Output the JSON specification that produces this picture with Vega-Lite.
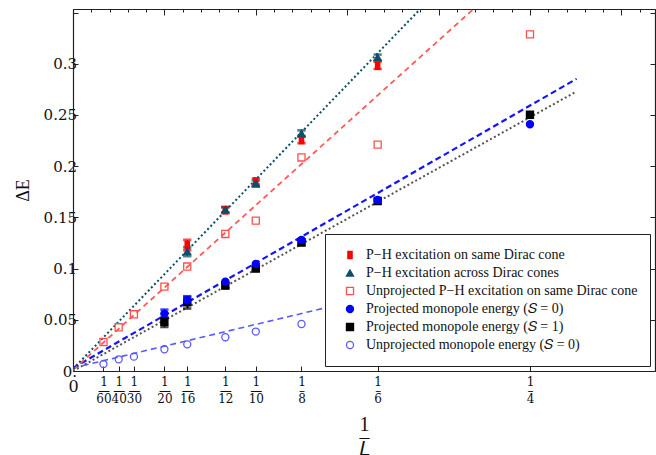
{
  "$schema": "https://vega.github.io/schema/vega-lite/v6.json",
  "width": 582,
  "height": 362,
  "autosize": {"type": "none"},
  "padding": {"left": 73, "top": 9, "right": 1, "bottom": 84},
  "background": "white",
  "config": {
    "view": {"stroke": "#222", "strokeWidth": 1},
    "axis": {"grid": false, "domainColor": "#222", "tickColor": "#222", "labelColor": "#111", "titleColor": "#111", "domainWidth": 1.2, "tickWidth": 1},
    "legend": {"orient": "none", "legendX": 252, "legendY": 225, "strokeColor": "#222", "fillColor": "white", "padding": 12, "symbolOffset": 6, "clipHeight": 18, "rowPadding": 0, "labelFont": "Liberation Serif", "labelFontSize": 14, "labelColor": "#111", "labelOffset": 9, "symbolSize": 50, "symbolStrokeWidth": 1.3, "labelLimit": 400, "cornerRadius": 0, "zindex": 1}
  },
  "datasets": {
    "pts": [
      {"series": "P−H excitation on same Dirac cone", "x": 0.0625, "y": 0.123, "lo": 0.118, "hi": 0.128},
      {"series": "P−H excitation on same Dirac cone", "x": 0.083333, "y": 0.157, "lo": 0.154, "hi": 0.160},
      {"series": "P−H excitation on same Dirac cone", "x": 0.1, "y": 0.185, "lo": 0.182, "hi": 0.188},
      {"series": "P−H excitation on same Dirac cone", "x": 0.125, "y": 0.2255, "lo": 0.2225, "hi": 0.229},
      {"series": "P−H excitation on same Dirac cone", "x": 0.166667, "y": 0.298, "lo": 0.295, "hi": 0.302},
      {"series": "P−H excitation across Dirac cones", "x": 0.0625, "y": 0.1166, "lo": 0.112, "hi": 0.121},
      {"series": "P−H excitation across Dirac cones", "x": 0.083333, "y": 0.1575, "lo": 0.155, "hi": 0.160},
      {"series": "P−H excitation across Dirac cones", "x": 0.1, "y": 0.183, "lo": 0.180, "hi": 0.186},
      {"series": "P−H excitation across Dirac cones", "x": 0.125, "y": 0.232, "lo": 0.229, "hi": 0.235},
      {"series": "P−H excitation across Dirac cones", "x": 0.166667, "y": 0.3063, "lo": 0.303, "hi": 0.309},
      {"series": "Unprojected P−H excitation on same Dirac cone", "x": 0.016667, "y": 0.0283},
      {"series": "Unprojected P−H excitation on same Dirac cone", "x": 0.025, "y": 0.0427},
      {"series": "Unprojected P−H excitation on same Dirac cone", "x": 0.033333, "y": 0.0554},
      {"series": "Unprojected P−H excitation on same Dirac cone", "x": 0.05, "y": 0.0824},
      {"series": "Unprojected P−H excitation on same Dirac cone", "x": 0.0625, "y": 0.102},
      {"series": "Unprojected P−H excitation on same Dirac cone", "x": 0.083333, "y": 0.1338},
      {"series": "Unprojected P−H excitation on same Dirac cone", "x": 0.1, "y": 0.1469},
      {"series": "Unprojected P−H excitation on same Dirac cone", "x": 0.125, "y": 0.2085},
      {"series": "Unprojected P−H excitation on same Dirac cone", "x": 0.166667, "y": 0.221},
      {"series": "Unprojected P−H excitation on same Dirac cone", "x": 0.25, "y": 0.3287},
      {"series": "Projected monopole energy (𝑆 = 1)", "x": 0.05, "y": 0.048, "lo": 0.043, "hi": 0.052},
      {"series": "Projected monopole energy (𝑆 = 1)", "x": 0.0625, "y": 0.067, "lo": 0.061, "hi": 0.073},
      {"series": "Projected monopole energy (𝑆 = 1)", "x": 0.083333, "y": 0.0834, "lo": 0.081, "hi": 0.086},
      {"series": "Projected monopole energy (𝑆 = 1)", "x": 0.1, "y": 0.1, "lo": 0.098, "hi": 0.102},
      {"series": "Projected monopole energy (𝑆 = 1)", "x": 0.125, "y": 0.1255, "lo": 0.123, "hi": 0.128},
      {"series": "Projected monopole energy (𝑆 = 1)", "x": 0.166667, "y": 0.166},
      {"series": "Projected monopole energy (𝑆 = 1)", "x": 0.25, "y": 0.2502},
      {"series": "Projected monopole energy (𝑆 = 0)", "x": 0.05, "y": 0.056, "lo": 0.052, "hi": 0.060},
      {"series": "Projected monopole energy (𝑆 = 0)", "x": 0.0625, "y": 0.069, "lo": 0.066, "hi": 0.072},
      {"series": "Projected monopole energy (𝑆 = 0)", "x": 0.083333, "y": 0.0873},
      {"series": "Projected monopole energy (𝑆 = 0)", "x": 0.1, "y": 0.1046},
      {"series": "Projected monopole energy (𝑆 = 0)", "x": 0.125, "y": 0.128},
      {"series": "Projected monopole energy (𝑆 = 0)", "x": 0.166667, "y": 0.167},
      {"series": "Projected monopole energy (𝑆 = 0)", "x": 0.25, "y": 0.241},
      {"series": "Unprojected monopole energy (𝑆 = 0)", "x": 0.016667, "y": 0.0068},
      {"series": "Unprojected monopole energy (𝑆 = 0)", "x": 0.025, "y": 0.0114},
      {"series": "Unprojected monopole energy (𝑆 = 0)", "x": 0.033333, "y": 0.014},
      {"series": "Unprojected monopole energy (𝑆 = 0)", "x": 0.05, "y": 0.0212},
      {"series": "Unprojected monopole energy (𝑆 = 0)", "x": 0.0625, "y": 0.026},
      {"series": "Unprojected monopole energy (𝑆 = 0)", "x": 0.083333, "y": 0.033},
      {"series": "Unprojected monopole energy (𝑆 = 0)", "x": 0.1, "y": 0.0385},
      {"series": "Unprojected monopole energy (𝑆 = 0)", "x": 0.125, "y": 0.0459}
    ],
    "fits": [
      {"fit": "B", "x": 0.0, "y": 0.002},
      {"fit": "B", "x": 0.2, "y": 0.372},
      {"fit": "C", "x": 0.0, "y": 0.001},
      {"fit": "C", "x": 0.23, "y": 0.371},
      {"fit": "D", "x": 0.0, "y": 0.003},
      {"fit": "D", "x": 0.2755, "y": 0.2853},
      {"fit": "E", "x": 0.0, "y": 0.0},
      {"fit": "E", "x": 0.2755, "y": 0.273},
      {"fit": "F", "x": 0.0, "y": 0.003},
      {"fit": "F", "x": 0.3, "y": 0.1305}
    ]
  },
  "layer": [
    {
      "data": {"name": "fits"},
      "transform": [{"filter": "datum.fit == 'F'"}],
      "mark": {"type": "line", "clip": true, "color": "#5a5aff", "strokeWidth": 1.6, "strokeDash": [6, 4]},
      "encoding": {
        "x": {"field": "x", "type": "quantitative", "scale": {"domain": [0, 0.3184], "nice": false, "zero": false},
          "axis": {"orient": "top", "values": [0.01,0.02,0.03,0.04,0.05,0.06,0.07,0.08,0.09,0.1,0.11,0.12,0.13,0.14,0.15,0.16,0.17,0.18,0.19,0.2,0.21,0.22,0.23,0.24,0.25,0.26,0.27,0.28,0.29,0.3,0.31],
            "labels": false, "title": null,
            "tickSize": {"condition": {"test": "abs(datum.value*20 - round(datum.value*20)) < 0.001", "value": -6}, "value": -3}}},
        "y": {"field": "y", "type": "quantitative", "scale": {"domain": [0, 0.3535], "nice": false, "zero": false},
          "axis": {"orient": "right", "values": [0.05,0.1,0.15,0.2,0.25,0.3,0.35], "labels": false, "title": null, "tickSize": -5}}
      }
    },
    {
      "data": {"name": "fits"},
      "transform": [{"filter": "datum.fit == 'E'"}],
      "mark": {"type": "line", "clip": true, "color": "#555555", "strokeWidth": 2, "strokeDash": [2, 2.5]},
      "encoding": {
        "x": {"field": "x", "type": "quantitative", "axis": null},
        "y": {"field": "y", "type": "quantitative", "axis": null}
      }
    },
    {
      "data": {"name": "fits"},
      "transform": [{"filter": "datum.fit == 'D'"}],
      "mark": {"type": "line", "clip": true, "color": "#1414ff", "strokeWidth": 2.2, "strokeDash": [6, 3.5]},
      "encoding": {
        "x": {"field": "x", "type": "quantitative", "axis": null},
        "y": {"field": "y", "type": "quantitative", "axis": null}
      }
    },
    {
      "data": {"name": "fits"},
      "transform": [{"filter": "datum.fit == 'C'"}],
      "mark": {"type": "line", "clip": true, "color": "#ff5a5a", "strokeWidth": 1.8, "strokeDash": [5.5, 4]},
      "encoding": {
        "x": {"field": "x", "type": "quantitative", "axis": null},
        "y": {"field": "y", "type": "quantitative", "axis": null}
      }
    },
    {
      "data": {"name": "fits"},
      "transform": [{"filter": "datum.fit == 'B'"}],
      "mark": {"type": "line", "clip": true, "color": "#0b4f6b", "strokeWidth": 2, "strokeDash": [2, 2.5]},
      "encoding": {
        "x": {"field": "x", "type": "quantitative", "axis": null},
        "y": {"field": "y", "type": "quantitative", "axis": null}
      }
    },
    {
      "data": {"name": "pts"},
      "transform": [{"filter": "isValid(datum.lo)"}],
      "mark": {"type": "rule", "strokeWidth": 1.4},
      "encoding": {
        "x": {"field": "x", "type": "quantitative", "axis": null},
        "y": {"field": "lo", "type": "quantitative", "axis": null},
        "y2": {"field": "hi"},
        "stroke": {"field": "series", "type": "nominal", "legend": null,
          "scale": {"domain": ["P−H excitation on same Dirac cone", "P−H excitation across Dirac cones", "Projected monopole energy (𝑆 = 0)", "Projected monopole energy (𝑆 = 1)"],
            "range": ["#ff0000", "#0b4f6b", "#0000ff", "#000000"]}}
      }
    },
    {
      "data": {"name": "pts"},
      "transform": [{"filter": "isValid(datum.lo)"}],
      "mark": {"type": "tick", "orient": "horizontal", "size": 7, "thickness": 1.3, "filled": false, "strokeWidth": 1.3},
      "encoding": {
        "x": {"field": "x", "type": "quantitative", "axis": null},
        "y": {"field": "lo", "type": "quantitative", "axis": null},
        "stroke": {"field": "series", "type": "nominal", "legend": null}
      }
    },
    {
      "data": {"name": "pts"},
      "transform": [{"filter": "isValid(datum.hi)"}],
      "mark": {"type": "tick", "orient": "horizontal", "size": 7, "thickness": 1.3, "filled": false, "strokeWidth": 1.3},
      "encoding": {
        "x": {"field": "x", "type": "quantitative", "axis": null},
        "y": {"field": "hi", "type": "quantitative", "axis": null},
        "stroke": {"field": "series", "type": "nominal", "legend": null}
      }
    },
    {
      "data": {"name": "pts"},
      "mark": {"type": "point", "filled": false, "strokeWidth": 1.3, "opacity": 1, "size": 50},
      "encoding": {
        "x": {"field": "x", "type": "quantitative",
          "axis": {"orient": "bottom", "values": [0, 0.016667, 0.025, 0.033333, 0.05, 0.0625, 0.083333, 0.1, 0.125, 0.166667, 0.25],
            "labelExpr": "datum.value == 0 ? '0' : ['1', (round(1/datum.value) >= 10 ? '—' : '–'), format(round(1/datum.value), 'd')]",
            "labelFont": "DejaVu Serif", "labelFontSize": {"condition": {"test": "datum.value == 0", "value": 16}, "value": 12},
            "labelLineHeight": 8.5, "labelOverlap": false, "labelBound": false, "labelFlush": false,
            "labelPadding": {"condition": {"test": "datum.value == 0", "value": 12}, "value": 10.5},
            "tickSize": -5,
            "title": ["1", "–", "𝐿"], "titleFont": "Liberation Serif", "titleFontSize": 20, "titleFontWeight": "normal", "titleLineHeight": 12.5, "titlePadding": 10}},
        "y": {"field": "y", "type": "quantitative",
          "axis": {"orient": "left", "values": [0, 0.05, 0.1, 0.15, 0.2, 0.25, 0.3, 0.35],
            "labelExpr": "datum.value == 0 ? '0.' : (datum.value > 0.34 ? '' : format(datum.value, '.2~f'))",
            "labelFont": "DejaVu Serif", "labelFontSize": 15, "labelPadding": 1.5, "tickSize": -5,
            "title": "ΔE", "titleFont": "Liberation Serif", "titleFontSize": 18, "titleFontWeight": "normal", "titlePadding": 11}},
        "color": {"field": "series", "type": "nominal",
          "scale": {"domain": ["P−H excitation on same Dirac cone", "P−H excitation across Dirac cones", "Unprojected P−H excitation on same Dirac cone", "Projected monopole energy (𝑆 = 0)", "Projected monopole energy (𝑆 = 1)", "Unprojected monopole energy (𝑆 = 0)"],
            "range": ["#ff0000", "#0b4f6b", "#ff5050", "#0000ff", "#000000", "#5a5aff"]},
          "legend": {"title": null}},
        "fill": {"field": "series", "type": "nominal",
          "scale": {"domain": ["P−H excitation on same Dirac cone", "P−H excitation across Dirac cones", "Unprojected P−H excitation on same Dirac cone", "Projected monopole energy (𝑆 = 0)", "Projected monopole energy (𝑆 = 1)", "Unprojected monopole energy (𝑆 = 0)"],
            "range": ["#ff0000", "#0b4f6b", "transparent", "#0000ff", "#000000", "transparent"]},
          "legend": {"title": null}},
        "shape": {"field": "series", "type": "nominal",
          "scale": {"domain": ["P−H excitation on same Dirac cone", "P−H excitation across Dirac cones", "Unprojected P−H excitation on same Dirac cone", "Projected monopole energy (𝑆 = 0)", "Projected monopole energy (𝑆 = 1)", "Unprojected monopole energy (𝑆 = 0)"],
            "range": ["M-0.6,-1H0.6V1H-0.6Z", "triangle-up", "square", "circle", "square", "circle"]},
          "legend": {"title": null}}
      }
    }
  ]
}
